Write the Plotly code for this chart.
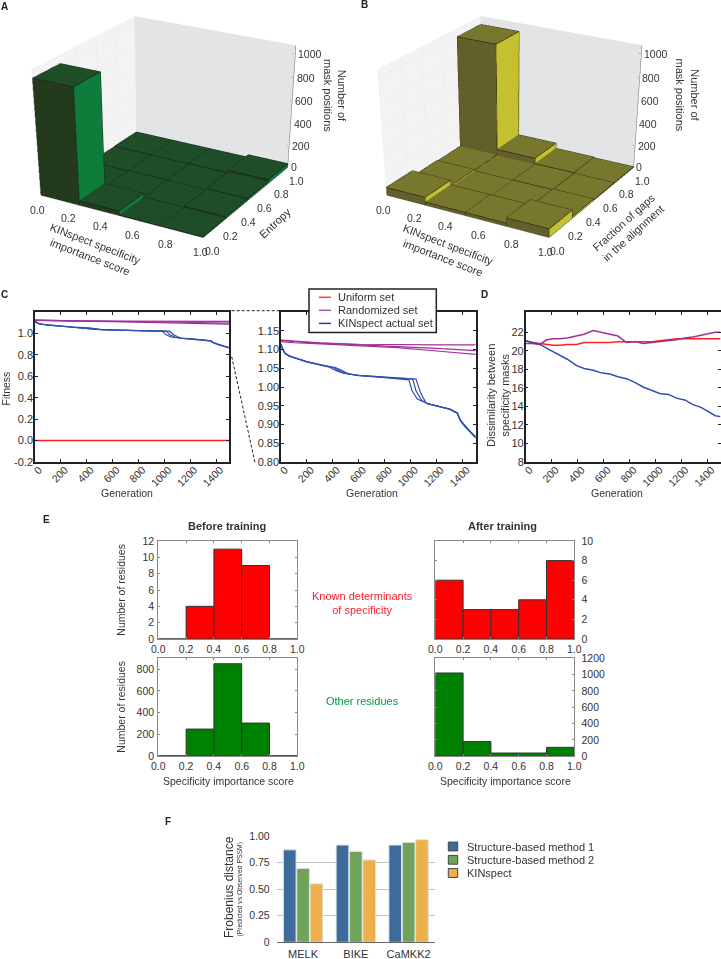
import math
import plotly.graph_objects as go

W, H = 721, 959
FONT = "Liberation Sans"
TXT = "#333333"

# ---------- data ----------
bin_edges = [0.0, 0.25, 0.5, 0.75, 1.0]
z_ticks = [0, 200, 400, 600, 800, 1000]
xy_ticks = [0.0, 0.2, 0.4, 0.6, 0.8, 1.0]
counts_A = [[1000, 40, 4, 4], [4, 6, 5, 14], [6, 8, 6, 18], [10, 10, 10, 34]]
counts_B = [[70, 28, 28, 75], [18, 6, 6, 14], [12, 6, 8, 6], [1000, 62, 12, 5]]

gen_b1 = [0, 10, 30, 60, 100, 200, 300, 380, 400, 430, 480, 600, 800, 950, 985, 1010, 1050, 1127, 1200, 1300, 1358, 1370, 1400, 1450, 1500]
fit_b1 = [1.115, 1.103, 1.09, 1.083, 1.078, 1.067, 1.059, 1.052, 1.048, 1.043, 1.037, 1.030, 1.025, 1.021, 1.019, 0.99, 0.968, 0.956, 0.949, 0.941, 0.931, 0.918, 0.903, 0.885, 0.866]
gen_b2 = [0, 10, 30, 60, 100, 200, 300, 400, 430, 460, 500, 600, 800, 950, 1015, 1040, 1085, 1127, 1200, 1300, 1358, 1380, 1410, 1455, 1500]
fit_b2 = [1.115, 1.102, 1.09, 1.083, 1.078, 1.067, 1.059, 1.052, 1.047, 1.041, 1.036, 1.031, 1.026, 1.022, 1.021, 0.99, 0.964, 0.956, 0.949, 0.941, 0.931, 0.913, 0.90, 0.882, 0.868]
gen_b3 = [0, 10, 30, 60, 100, 200, 300, 420, 450, 490, 520, 600, 800, 950, 1040, 1075, 1113, 1130, 1200, 1300, 1362, 1385, 1415, 1460, 1500]
fit_b3 = [1.115, 1.104, 1.091, 1.084, 1.079, 1.068, 1.06, 1.052, 1.047, 1.039, 1.035, 1.031, 1.027, 1.023, 1.021, 0.985, 0.96, 0.955, 0.949, 0.941, 0.929, 0.908, 0.895, 0.878, 0.864]
gen_p = [0, 100, 300, 600, 900, 1200, 1500]
fit_p1 = [1.125, 1.122, 1.118, 1.114, 1.1125, 1.1125, 1.1125]
fit_p2 = [1.124, 1.121, 1.117, 1.113, 1.109, 1.103, 1.097]
fit_p3 = [1.121, 1.118, 1.115, 1.111, 1.105, 1.096, 1.087]
gen_r = [0, 1500]
fit_r = [0.0, 0.0]

gen_d = [0, 50, 110, 160, 210, 264, 320, 392, 450, 520, 590, 648, 710, 776, 840, 904, 970, 1032, 1100, 1160, 1225, 1288, 1350, 1416, 1460, 1500]
dis_blue = [21.1, 20.9, 20.7, 20.3, 19.9, 19.5, 19.1, 18.4, 18.1, 17.9, 17.6, 17.5, 17.2, 17.0, 16.6, 16.1, 15.7, 15.4, 15.3, 14.9, 14.7, 14.2, 13.9, 13.4, 13.0, 12.9]
dis_red = [21.1, 20.9, 20.8, 20.7, 20.6, 20.6, 20.7, 20.7, 20.9, 20.9, 20.9, 20.9, 21.0, 21.0, 21.0, 21.0, 21.0, 21.1, 21.2, 21.3, 21.3, 21.3, 21.3, 21.3, 21.3, 21.3]
dis_purple = [20.8, 20.8, 20.7, 21.2, 21.3, 21.3, 21.4, 21.6, 21.8, 22.2, 22.0, 21.8, 21.6, 20.9, 21.0, 20.8, 20.9, 21.0, 21.1, 21.2, 21.4, 21.5, 21.7, 21.9, 22.0, 22.0]

hist_x = [0.1, 0.3, 0.5, 0.7, 0.9]
before_known = [0, 4, 11, 9, 0]
before_other = [5, 250, 850, 305, 5]
after_known = [6, 3, 3, 4, 8]
after_other = [1020, 180, 40, 40, 110]

kinases = ["MELK", "BIKE", "CaMKK2"]
method1 = [0.87, 0.915, 0.915]
method2 = [0.695, 0.855, 0.94]
kinspect = [0.55, 0.775, 0.965]
legend_C = ["Uniform set", "Randomized set", "KINspect actual set"]
legend_F = ["Structure-based method 1", "Structure-based method 2", "KINspect"]


def PX(v):
    return v / W


def PY(v):
    return 1 - v / H


def dom_x(a, b):
    return [a / W, b / W]


def dom_y(top, bottom):
    return [1 - bottom / H, 1 - top / H]


fig = go.Figure()


# ---------- 3D ----------
def bars3d(counts, top, front, side, edge, scene):
    xs, ys, zs, ii, jj, kk, fc = [], [], [], [], [], [], []
    lx, ly, lz = [], [], []
    for r, row in enumerate(counts):
        for c, val in enumerate(row):
            x0, x1 = bin_edges[c], bin_edges[c + 1]
            y0, y1 = bin_edges[r], bin_edges[r + 1]
            b = len(xs)
            for zv in (0, val):
                xs += [x0, x1, x1, x0]
                ys += [y0, y0, y1, y1]
                zs += [zv, zv, zv, zv]
            quads = [((4, 5, 6, 7), top), ((0, 1, 5, 4), front), ((1, 2, 6, 5), side),
                     ((2, 3, 7, 6), front), ((3, 0, 4, 7), front)]
            for q, col in quads:
                a, bb, cc, d = [b + n for n in q]
                ii += [a, a]
                jj += [bb, cc]
                kk += [cc, d]
                fc += [col, col]
            for path in ((0, 1, 2, 3, 0), (4, 5, 6, 7, 4), (0, 4), (1, 5), (2, 6), (3, 7)):
                for n in path:
                    lx.append(xs[b + n]); ly.append(ys[b + n]); lz.append(zs[b + n])
                lx.append(None); ly.append(None); lz.append(None)
    fig.add_trace(go.Mesh3d(x=xs, y=ys, z=zs, i=ii, j=jj, k=kk, facecolor=fc, flatshading=True,
                            lighting=dict(ambient=1, diffuse=0, specular=0, fresnel=0, roughness=1),
                            hoverinfo="skip", showlegend=False, scene=scene))
    fig.add_trace(go.Scatter3d(x=lx, y=ly, z=lz, mode="lines", line=dict(color=edge, width=1.5),
                               hoverinfo="skip", showlegend=False, scene=scene))
    # axis edges and tick marks
    ax_x, ax_y, ax_z = [0, 1, 1, None, 1, 1, None], [0, 0, 1, None, 1, 1, None], [0, 0, 0, None, 0, 1072, None]
    for t in xy_ticks:
        ax_x += [t, t, None, 1, 0.985, None]
        ax_y += [0, 0.015, None, t, t, None]
        ax_z += [0, 0, None, 0, 0, None]
    for t in z_ticks:
        ax_x += [1, 0.985, None]
        ax_y += [1, 1, None]
        ax_z += [t, t, None]
    fig.add_trace(go.Scatter3d(x=ax_x, y=ax_y, z=ax_z, mode="lines", line=dict(color="#666666", width=1),
                               hoverinfo="skip", showlegend=False, scene=scene))


bars3d(counts_A, "#1e4d28", "#233b1c", "#0e7d3c", "#16221a", "scene")
bars3d(counts_B, "#77772d", "#635f2a", "#c4c030", "#2a2a12", "scene2")


def scene_layout(dom, shift, dist, aspect, elev, zratio):
    ce, se = math.cos(math.radians(elev)), math.sin(math.radians(elev))
    dirv = (ce * 0.5, -ce * 0.866, se)
    up = [-dirv[2] * dirv[0], -dirv[2] * dirv[1], 1 - dirv[2] * dirv[2]]
    m = math.sqrt(sum(v * v for v in up))
    up = [v / m for v in up]
    c = [-shift * v for v in up]
    e = [c[i] + dist * dirv[i] for i in range(3)]
    ann = []
    fnt = dict(size=10.5, color=TXT, family=FONT)
    for t in xy_ticks:
        ann.append(dict(x=t, y=0, z=0, text=f"{t:.1f}", showarrow=False, xshift=-3, yshift=-15, font=fnt))
        ann.append(dict(x=1, y=t, z=0, text=f"{t:.1f}", showarrow=False, xshift=9, yshift=-14, font=fnt))
    for t in z_ticks:
        ann.append(dict(x=1, y=1, z=t, text=str(t), showarrow=False, xanchor="left", xshift=1, font=fnt))
    ax = dict(showticklabels=False, title="", showgrid=True, gridcolor="#e9e9eb", gridwidth=1,
              zeroline=False, showspikes=False, showbackground=True, showline=False)
    return dict(domain=dict(x=dom[0], y=dom[1]),
                aspectmode="manual", aspectratio=dict(x=aspect, y=aspect, z=aspect * zratio),
                camera=dict(projection=dict(type="perspective"),
                            eye=dict(x=e[0], y=e[1], z=e[2]),
                            center=dict(x=c[0], y=c[1], z=c[2]), up=dict(x=0, y=0, z=1)),
                xaxis=dict(ax, range=[0, 1], tickvals=xy_ticks, backgroundcolor="#f3f3f4", showgrid=False),
                yaxis=dict(ax, range=[0, 1], tickvals=xy_ticks, backgroundcolor="#e3e4e6"),
                zaxis=dict(ax, range=[0, 1072], tickvals=z_ticks, backgroundcolor="#efefef"),
                annotations=ann, bgcolor="rgba(0,0,0,0)")


# ---------- line panels ----------
BLUE, PURPLE, RED = "#3050b0", "#a0309a", "#ff2020"
run_sets = [(gen_b1, fit_b1, BLUE), (gen_b2, fit_b2, BLUE), (gen_b3, fit_b3, BLUE),
            (gen_p, fit_p1, PURPLE), (gen_p, fit_p2, PURPLE), (gen_p, fit_p3, PURPLE)]
fig.add_trace(go.Scatter(x=gen_r, y=fit_r, mode="lines", line=dict(color=RED, width=1.5), xaxis="x", yaxis="y", showlegend=False))
for gx, gy, col in run_sets:
    for ax_x, ax_y in (("x", "y"), ("x2", "y2")):
        fig.add_trace(go.Scatter(x=gx, y=gy, mode="lines", line=dict(color=col, width=1.2),
                                 xaxis=ax_x, yaxis=ax_y, showlegend=False))
for vals, col in ((dis_red, RED), (dis_purple, PURPLE), (dis_blue, BLUE)):
    fig.add_trace(go.Scatter(x=gen_d, y=vals, mode="lines", line=dict(color=col, width=1.5),
                             xaxis="x3", yaxis="y3", showlegend=False))

# ---------- histograms ----------
for vals, col, xa, ya in ((before_known, "#ff0000", "x4", "y4"), (after_known, "#ff0000", "x5", "y5"),
                          (before_other, "#008000", "x6", "y6"), (after_other, "#008000", "x7", "y7")):
    fig.add_trace(go.Bar(x=hist_x, y=vals, width=0.2, marker=dict(color=col, line=dict(color="#333333", width=1)),
                         xaxis=xa, yaxis=ya, showlegend=False))

# ---------- grouped bars ----------
F_COLORS = ["#3d6b9c", "#6fa35a", "#edb04a"]
for vals, col, name in zip((method1, method2, kinspect), F_COLORS, legend_F):
    fig.add_trace(go.Bar(x=kinases, y=vals, marker=dict(color=col, line=dict(color="#dfe3e6", width=1)),
                         name=name, xaxis="x8", yaxis="y8", showlegend=False))


def line_x(dom, anchor):
    return dict(domain=dom, anchor=anchor, range=[0, 1500], tickvals=[0, 200, 400, 600, 800, 1000, 1200, 1400],
                tickangle=-45, ticks="inside", ticklen=3, tickcolor="#222", showline=True, linecolor="#222",
                linewidth=1.5, mirror="ticks", showgrid=False, zeroline=False, tickfont=dict(size=10.5, color=TXT),
                ticklabelshift=4, ticklabelstandoff=-4)


def line_y(dom, anchor, rng, vals, labels):
    return dict(domain=dom, anchor=anchor, range=rng, tickvals=vals, ticktext=labels, ticks="inside", ticklen=3,
                tickcolor="#222", showline=True, linecolor="#222", linewidth=1.5, mirror="ticks", showgrid=False,
                zeroline=False, tickfont=dict(size=11, color=TXT), ticklabelstandoff=-2)


def hist_x_ax(dom, anchor):
    return dict(domain=dom, anchor=anchor, range=[0, 1], tickvals=xy_ticks, ticktext=[f"{t:.1f}" for t in xy_ticks],
                ticks="inside", ticklen=2, tickcolor="#888", showline=True, linecolor="#888", linewidth=1.2,
                mirror="ticks", showgrid=False, zeroline=False, tickfont=dict(size=10.5, color=TXT), ticklabelstandoff=0)


def hist_y_ax(dom, anchor, rng, vals, side):
    return dict(domain=dom, anchor=anchor, range=rng, tickvals=vals, side=side, ticks="inside", ticklen=2,
                tickcolor="#888", showline=True, linecolor="#888", linewidth=1.2, mirror="ticks", showgrid=False,
                zeroline=False, tickfont=dict(size=10.5, color=TXT), ticklabelstandoff=4 if side == "right" else 1)


cy = dom_y(312, 462)
e1, e2 = dom_y(541, 639), dom_y(658.3, 756.3)
ex1, ex2 = dom_x(158.3, 297.3), dom_x(435.3, 574.3)

annots = []


def note(x, y, text, size=10.5, color=TXT, angle=0, bold=False, align="center", xanchor="center"):
    annots.append(dict(x=PX(x), y=PY(y), xref="paper", yref="paper", xanchor=xanchor, yanchor="middle",
                       text=f"<b>{text}</b>" if bold else text,
                       showarrow=False, font=dict(size=size, color=color, family=FONT), textangle=angle, align=align))


for t, x, y in (("A", 4, 6.5), ("B", 364, 4.5), ("C", 4, 295), ("D", 484, 295), ("E", 46, 519), ("F", 168, 821)):
    note(x, y, t, size=10, color="#222", bold=True)
note(92.5, 250, "KINspect specificity<br>importance score", size=11, angle=21)
note(275, 223, "Entropy", size=11, angle=-43)
note(335, 95, "Number of<br>mask positions", size=11, angle=90)
note(445.7, 250.7, "KINspect specificity<br>importance score", size=11, angle=21)
note(628, 228, "Fraction of gaps<br>in the alignment", size=11, angle=-42)
note(687.5, 95, "Number of<br>mask positions", size=11, angle=90)
note(5.5, 389, "Fitness", angle=-90)
note(126.5, 493, "Generation")
note(372, 493, "Generation")
note(617, 493, "Generation")
note(498, 396, "Dissimilarity between<br>specificity masks", size=11, angle=-90)
note(227, 525.7, "Before training", size=11, bold=True)
note(502, 525.7, "After training", size=11, bold=True)
note(362, 603, "Known determinants<br>of specificity", size=11, color="#ff2030")
note(362, 701, "Other residues", size=11, color="#009a44")
note(120.7, 590, "Number of residues", angle=-90)
note(120.7, 707, "Number of residues", angle=-90)
note(228, 781, "Specificity importance score")
note(505, 781, "Specificity importance score")
note(229, 887, "Frobenius distance", size=12, angle=-90)
note(239.5, 890, "(Predicted vs Observed PSSM)", size=6.8, angle=-90)

shapes = [
    dict(type="line", xref="paper", yref="paper", x0=PX(231.7), y0=PY(310.7), x1=PX(280), y1=PY(310.7),
         line=dict(color="#222", width=1, dash="3px,2px")),
    dict(type="line", xref="paper", yref="paper", x0=PX(231.7), y0=PY(356.7), x1=PX(255), y1=PY(462.7),
         line=dict(color="#222", width=1, dash="3px,2px")),
    dict(type="rect", xref="paper", yref="paper", x0=PX(309), x1=PX(436.3), y0=PY(289), y1=PY(332.4),
         fillcolor="white", line=dict(color="#222", width=1.5)),
]
for label, col, ly in zip(legend_C, ["#ff4040", "#aa55bb", "#2a3fa0"], [297.3, 310.3, 323.4]):
    shapes.append(dict(type="line", xref="paper", yref="paper", x0=PX(319), x1=PX(331), y0=PY(ly), y1=PY(ly),
                       line=dict(color=col, width=1.5)))
    note(336, ly, label, size=11, xanchor="left")
for label, col, ly in zip(legend_F, F_COLORS, [846.5, 859.8, 873]):
    shapes.append(dict(type="rect", xref="paper", yref="paper", x0=PX(448.3), x1=PX(457.7), y0=PY(ly - 4.4), y1=PY(ly + 4.4),
                       fillcolor=col, line=dict(color="#444", width=1)))
    note(465, ly, label, size=11, xanchor="left")

fig.update_layout(
    width=W, height=H, margin=dict(l=0, r=0, t=0, b=0, autoexpand=False), paper_bgcolor="white", plot_bgcolor="white",
    font=dict(family=FONT, size=10.5, color=TXT), barmode="group", bargap=0.24, bargroupgap=0.05, showlegend=False,
    scene=scene_layout(([3 / W, 331 / W], [0, 1]), 1.92, 6.2, 1.0, 38.5, 0.68),
    scene2=scene_layout(([346.5 / W, 678.5 / W], [0, 1]), 1.92, 6.2, 1.0, 38.5, 0.68),
    xaxis=line_x(dom_x(35, 229), "y"),
    yaxis=line_y(cy, "x", [-0.2, 1.2], [-0.2, 0, 0.2, 0.4, 0.6, 0.8, 1.0], ["-0.2", "0.0", "0.2", "0.4", "0.6", "0.8", "1.0"]),
    xaxis2=line_x(dom_x(281, 475.7), "y2"),
    yaxis2=line_y(cy, "x2", [0.8, 1.2], [0.8, 0.85, 0.9, 0.95, 1.0, 1.05, 1.1, 1.15],
                  ["0.80", "0.85", "0.90", "0.95", "1.00", "1.05", "1.10", "1.15"]),
    xaxis3=line_x(dom_x(525.7, 720.5), "y3"),
    yaxis3=line_y(cy, "x3", [8, 24.2], [8, 10, 12, 14, 16, 18, 20, 22], None),
    xaxis4=hist_x_ax(ex1, "y4"),
    yaxis4=hist_y_ax(e1, "x4", [0, 12], [0, 2, 4, 6, 8, 10, 12], "left"),
    xaxis5=hist_x_ax(ex2, "y5"),
    yaxis5=hist_y_ax(e1, "x5", [0, 10], [0, 2, 4, 6, 8, 10], "right"),
    xaxis6=hist_x_ax(ex1, "y6"),
    yaxis6=hist_y_ax(e2, "x6", [0, 900], [0, 200, 400, 600, 800], "left"),
    xaxis7=hist_x_ax(ex2, "y7"),
    yaxis7=hist_y_ax(e2, "x7", [0, 1200], [0, 200, 400, 600, 800, 1000, 1200], "right"),
    xaxis8=dict(domain=dom_x(276.7, 435), anchor="y8", showline=True, linecolor="#666", linewidth=1, ticks="",
                tickfont=dict(size=11, color=TXT), ticklabelstandoff=1),
    yaxis8=dict(domain=dom_y(836, 942.3), anchor="x8", range=[0, 1], tickvals=[0, 0.25, 0.5, 0.75, 1],
                ticktext=["0", "0.25", "0.50", "0.75", "1.00"], showgrid=True, gridcolor="#c4c4c4", zeroline=False,
                showline=False, tickfont=dict(size=10.5, color=TXT), ticklabelstandoff=6),
    annotations=annots, shapes=shapes,
)

fig.write_html("out.html", config=dict(displayModeBar=False),
               post_script="document.body.style.margin='0';document.body.style.overflow='hidden';")
